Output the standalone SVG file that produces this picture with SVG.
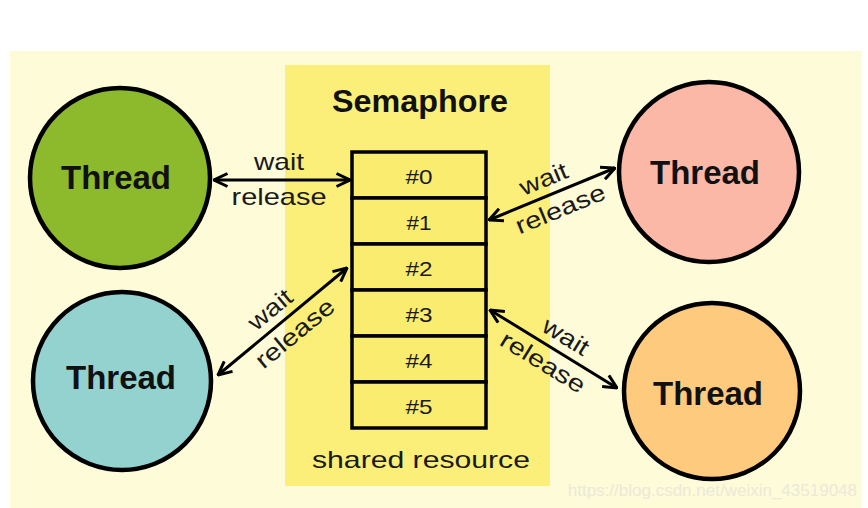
<svg xmlns="http://www.w3.org/2000/svg" width="868" height="508" viewBox="0 0 868 508">
<defs>
<style>
.bold{font-family:"Liberation Sans",Arial,sans-serif;font-weight:bold;fill:#111}
.reg{font-family:"Liberation Sans",Arial,sans-serif;fill:#1a1a1a}
.thread circle{stroke:#000;stroke-width:4.5}
.cell{fill:#f9ec6f;stroke:#000;stroke-width:3.5}
.conn line{stroke:#000;stroke-width:3;marker-start:url(#ah);marker-end:url(#ah)}
</style>
<marker id="ah" viewBox="0 0 16 16" refX="15" refY="8" markerWidth="16" markerHeight="16" markerUnits="userSpaceOnUse" orient="auto-start-reverse">
<path d="M1.5,1.5 L15,8 L1.5,14.5" fill="none" stroke="#000" stroke-width="3"/>
</marker>
</defs>
<rect width="868" height="508" fill="#ffffff"/>
<rect x="10" y="51" width="852" height="457" fill="#fdfbd8"/>
<g id="semaphore">
<rect x="285" y="65" width="265" height="421" fill="#fbef7a"/>
<text class="bold" x="420" y="112" font-size="32" text-anchor="middle" textLength="176" lengthAdjust="spacingAndGlyphs">Semaphore</text>
<g id="cells">
<rect class="cell" x="352" y="152" width="134" height="46"/>
<rect class="cell" x="352" y="198" width="134" height="46"/>
<rect class="cell" x="352" y="244" width="134" height="46"/>
<rect class="cell" x="352" y="290" width="134" height="46"/>
<rect class="cell" x="352" y="336" width="134" height="46"/>
<rect class="cell" x="352" y="382" width="134" height="46"/>
<g class="reg" font-size="21" text-anchor="middle">
<text x="419" y="184" textLength="27" lengthAdjust="spacingAndGlyphs">#0</text>
<text x="419" y="230" textLength="25" lengthAdjust="spacingAndGlyphs">#1</text>
<text x="419" y="276" textLength="27" lengthAdjust="spacingAndGlyphs">#2</text>
<text x="419" y="322" textLength="27" lengthAdjust="spacingAndGlyphs">#3</text>
<text x="419" y="368" textLength="27" lengthAdjust="spacingAndGlyphs">#4</text>
<text x="419" y="414" textLength="27" lengthAdjust="spacingAndGlyphs">#5</text>
</g>
</g>
<text class="reg" x="421" y="468" font-size="24" text-anchor="middle" textLength="218" lengthAdjust="spacingAndGlyphs">shared resource</text>
</g>
<g id="thread-green" class="thread">
<circle cx="120" cy="178" r="90" fill="#8cba2c"/>
<text class="bold" x="116" y="189" font-size="33" text-anchor="middle">Thread</text>
</g>
<g id="thread-teal" class="thread">
<circle cx="122" cy="381" r="89" fill="#93d2ce"/>
<text class="bold" x="121" y="389" font-size="33" text-anchor="middle">Thread</text>
</g>
<g id="thread-pink" class="thread">
<circle cx="709" cy="172" r="90" fill="#fbb8a7"/>
<text class="bold" x="705" y="184" font-size="33" text-anchor="middle">Thread</text>
</g>
<g id="thread-orange" class="thread">
<circle cx="712" cy="391" r="88" fill="#fdca7e"/>
<text class="bold" x="708" y="405" font-size="33" text-anchor="middle">Thread</text>
</g>
<g id="connectors" class="conn">
<line x1="214" y1="180" x2="350" y2="180"/>
<line x1="489" y1="220" x2="615" y2="168"/>
<line x1="218" y1="375" x2="347" y2="268"/>
<line x1="490" y1="310" x2="617" y2="388"/>
<g class="reg" font-size="24" text-anchor="middle">
<g transform="translate(279,180)">
<text x="0" y="-10" textLength="50" lengthAdjust="spacingAndGlyphs">wait</text>
<text x="0" y="25" textLength="95" lengthAdjust="spacingAndGlyphs">release</text>
</g>
<g transform="translate(552,194) rotate(-22.4)">
<text x="-2" y="-9" textLength="50" lengthAdjust="spacingAndGlyphs">wait</text>
<text x="2" y="25" textLength="95" lengthAdjust="spacingAndGlyphs">release</text>
</g>
<g transform="translate(282.5,321.5) rotate(-39.7)">
<text x="-2" y="-9" textLength="50" lengthAdjust="spacingAndGlyphs">wait</text>
<text x="2" y="25" textLength="95" lengthAdjust="spacingAndGlyphs">release</text>
</g>
<g transform="translate(553.5,349) rotate(31.6)">
<text x="4" y="-9" textLength="50" lengthAdjust="spacingAndGlyphs">wait</text>
<text x="-2" y="25" textLength="95" lengthAdjust="spacingAndGlyphs">release</text>
</g>
</g>
</g>
<text x="857" y="496" font-family="Liberation Sans,Arial,sans-serif" font-size="17" fill="#ebe9d9" text-anchor="end">https://blog.csdn.net/weixin_43519048</text>
</svg>
